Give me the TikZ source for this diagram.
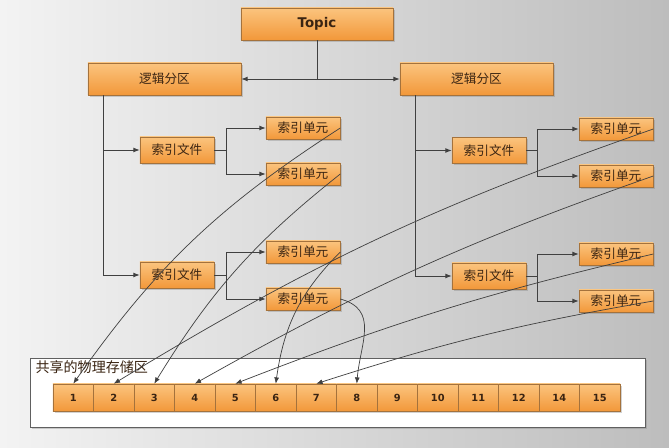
\documentclass[tikz,border=0pt]{standalone}
\usepackage{fontspec}
\newfontfamily\cjk{Noto Sans CJK SC}
\newfontfamily\lat{DejaVu Sans}
\usetikzlibrary{arrows.meta, shadows}

\definecolor{boxtop}{HTML}{FBC47E}
\definecolor{boxbot}{HTML}{F2983A}
\definecolor{boxline}{HTML}{A4723C}
\definecolor{txt}{HTML}{3A2412}
\definecolor{wirec}{HTML}{404040}
\definecolor{bgl}{HTML}{F3F3F3}
\definecolor{bgr}{HTML}{BDBDBD}

\tikzset{
  >={Latex[length=4.5pt,width=3.5pt]},
  box/.style={draw=boxline, top color=boxtop, bottom color=boxbot, inner sep=0pt, text=txt,
    drop shadow={shadow xshift=1.2pt, shadow yshift=-1.2pt, opacity=0.35}},
  topicbox/.style={box, minimum width=3.8cm, minimum height=0.8cm, font=\lat\bfseries\fontsize{9.5}{11}\selectfont},
  partbox/.style={box, minimum width=3.825cm, minimum height=0.8cm, font=\cjk\fontsize{9}{11}\selectfont},
  filebox/.style={box, minimum width=1.85cm, minimum height=0.65cm, font=\cjk\fontsize{9}{11}\selectfont},
  unitbox/.style={box, minimum width=1.85cm, minimum height=0.55cm, font=\cjk\fontsize{9}{11}\selectfont},
  cellbox/.style={box, minimum width=1.0125cm, minimum height=0.675cm, font=\lat\bfseries\fontsize{7}{8}\selectfont},
  storebox/.style={draw=gray!75!black, fill=white, minimum width=15.375cm, minimum height=1.725cm,
    drop shadow={shadow xshift=1.2pt, shadow yshift=-1.2pt, opacity=0.35}},
  wire/.style={draw=wirec, line width=0.7pt},
  link/.style={draw=wirec, line width=0.5pt, ->},
}

\begin{document}
\begin{tikzpicture}[x=0.025cm, y=0.025cm]

  % Sfondo
  \shade[left color=bgl, right color=bgr] (0,0) rectangle (669,447);
  \useasboundingbox (0,0) rectangle (669,447);

  % Topic
  \node[topicbox] (topic) at (317,423) {Topic};
  \node[partbox] (partL) at (164.5,368) {逻辑分区};
  \node[partbox] (partR) at (476.5,368) {逻辑分区};
  \draw[wire,<->] (partL) -- (partR);
  \draw[wire] (topic) -- (topic |- partL);

  % Partizione sinistra
  \node[filebox] (fileL1) at (177,297) {索引文件};
  \node[filebox] (fileL2) at (177,172) {索引文件};
  \node[unitbox] (unitL1) at (303,319) {索引单元};
  \node[unitbox] (unitL2) at (303,273) {索引单元};
  \node[unitbox] (unitL3) at (303,195) {索引单元};
  \node[unitbox] (unitL4) at (303,148) {索引单元};
  \draw[wire,->] (partL.south west) ++(16,0) |- (fileL1.west);
  \draw[wire,->] (partL.south west) ++(16,0) |- (fileL2.west);
  \draw[wire,->] (fileL1.east) -- ++(12,0) |- (unitL1.west);
  \draw[wire,->] (fileL1.east) -- ++(12,0) |- (unitL2.west);
  \draw[wire,->] (fileL2.east) -- ++(12,0) |- (unitL3.west);
  \draw[wire,->] (fileL2.east) -- ++(12,0) |- (unitL4.west);

  % Partizione destra
  \node[filebox] (fileR1) at (489,296.5) {索引文件};
  \node[filebox] (fileR2) at (489,171) {索引文件};
  \node[unitbox] (unitR1) at (616,318) {索引单元};
  \node[unitbox] (unitR2) at (616,271) {索引单元};
  \node[unitbox] (unitR3) at (616,193) {索引单元};
  \node[unitbox] (unitR4) at (616,146) {索引单元};
  \draw[wire,->] (partR.south west) ++(16,0) |- (fileR1.west);
  \draw[wire,->] (partR.south west) ++(16,0) |- (fileR2.west);
  \draw[wire,->] (fileR1.east) -- ++(11,0) |- (unitR1.west);
  \draw[wire,->] (fileR1.east) -- ++(11,0) |- (unitR2.west);
  \draw[wire,->] (fileR2.east) -- ++(11,0) |- (unitR3.west);
  \draw[wire,->] (fileR2.east) -- ++(11,0) |- (unitR4.west);

  % Memoria condivisa
  \node[storebox] (store) at (337.5,54.5) {};
  \node[anchor=north west, inner sep=0pt, text=txt, font=\cjk\fontsize{10}{12}\selectfont]
    (storetitle) at ([xshift=0.14cm, yshift=-0.06cm]store.north west) {共享的物理存储区};
  \foreach \lbl [count=\i from 0] in {1,2,3,4,5,6,7,8,9,10,11,12,14,15}
    \node[cellbox] (cell\lbl) at (73.25+40.5*\i,49.5) {\lbl};

  % Collegamenti
  \draw[link] (unitL1.east) to[bend right=11] (cell1.north);
  \draw[link] (unitL2.east) to[bend right=10] (cell3.north);
  \draw[link] (unitL3.east) to[out=-135, in=82] (cell6.north);
  \draw[link] (unitL4.east) to[out=-15, in=85, looseness=1.2] (cell8.north);
  \draw[link] (unitR1.east) to[bend right=6] (cell2.north);
  \draw[link] (unitR2.east) to[bend right=5] (cell4.north);
  \draw[link] (unitR3.east) to[bend right=4] (cell5.north);
  \draw[link] (unitR4.east) to[bend right=4] (cell7.north);

\end{tikzpicture}
\end{document}
